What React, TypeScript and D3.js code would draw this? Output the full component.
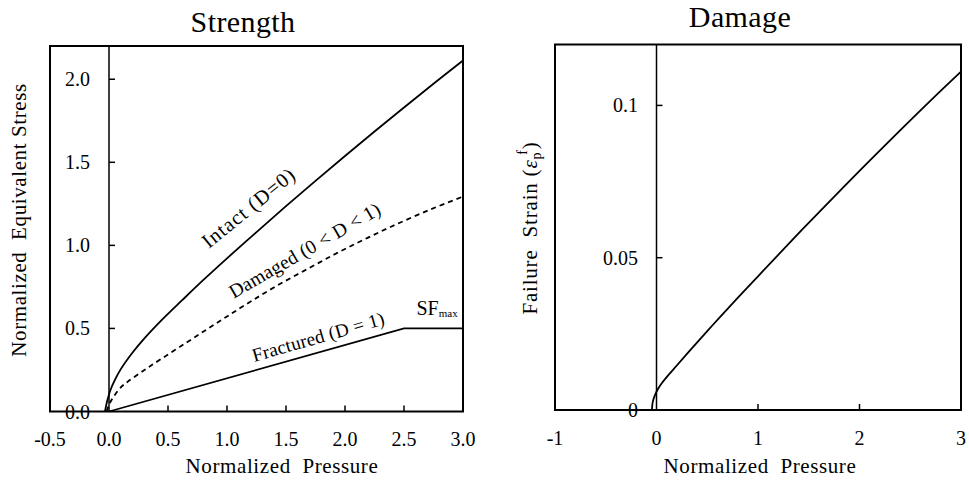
import React from 'react';
import * as d3 from 'd3';

// ---------- Data ----------
const strengthXTicks = [-0.5, 0.0, 0.5, 1.0, 1.5, 2.0, 2.5, 3.0];
const strengthYTicks = [0.0, 0.5, 1.0, 1.5, 2.0];

const intactP = [-0.034, -0.02, -0.005, 0.01, 0.05, 0.1, 0.2, 0.3, 0.45, 0.62, 0.8, 1.0, 1.25, 1.5, 1.75, 2.0, 2.25, 2.5, 2.75, 3.0];
const intactS = [0, 0.05, 0.09, 0.125, 0.19, 0.255, 0.355, 0.44, 0.553, 0.67, 0.792, 0.922, 1.08, 1.236, 1.388, 1.538, 1.685, 1.83, 1.973, 2.113];

const damagedP = [-0.02, 0.0, 0.04, 0.1, 0.16, 0.3, 0.45, 0.65, 0.83, 1.0, 1.2, 1.44, 1.7, 1.93, 2.15, 2.39, 2.7, 3.0];
const damagedS = [0, 0.04, 0.09, 0.145, 0.18, 0.25, 0.32, 0.412, 0.495, 0.572, 0.662, 0.764, 0.865, 0.953, 1.031, 1.112, 1.209, 1.294];

const fracturedP = [0, 2.5, 3.0];
const fracturedS = [0, 0.5, 0.5];

const damageXTicks = [-1, 0, 1, 2, 3];
const damageYTicks = [0, 0.05, 0.1];
const damageYLabels = ['0', '0.05', '0.1'];

const failP = [-0.045, -0.04, -0.03, -0.015, 0, 0.025, 0.05, 0.1, 0.2, 0.35, 0.5, 0.65, 0.83, 1.0, 1.32, 1.6, 2.0, 2.4, 2.7, 3.0];
const failE = [0, 0.002, 0.0035, 0.0049, 0.006, 0.0075, 0.0087, 0.0108, 0.0146, 0.0203, 0.0259, 0.0314, 0.0379, 0.0439, 0.0552, 0.0649, 0.0785, 0.0918, 0.1016, 0.1111];

const FONT = '"Liberation Serif", "Times New Roman", Times, serif';

function zip(xs: number[], ys: number[]): [number, number][] {
  return xs.map((x, i) => [x, ys[i]] as [number, number]);
}

export default function App() {
  const W = 969;
  const H = 481;

  const sx = d3.scaleLinear().domain([-0.5, 3.0]).range([50, 463]);
  const sy = d3.scaleLinear().domain([0, 2.2]).range([411.5, 46]);
  const sLine = d3
    .line<[number, number]>()
    .x((d) => sx(d[0]))
    .y((d) => sy(d[1]))
    .curve(d3.curveCatmullRom.alpha(0.5));
  const sLinear = d3
    .line<[number, number]>()
    .x((d) => sx(d[0]))
    .y((d) => sy(d[1]));

  const dx = d3.scaleLinear().domain([-1, 3]).range([555, 961]);
  const dy = d3.scaleLinear().domain([0, 0.12]).range([410, 44.5]);
  const dLine = d3
    .line<[number, number]>()
    .x((d) => dx(d[0]))
    .y((d) => dy(d[1]))
    .curve(d3.curveCatmullRom.alpha(0.5));

  const tickFont = 20;

  return (
    <svg
      width={W}
      height={H}
      viewBox={`0 0 ${W} ${H}`}
      style={{ position: 'absolute', left: 0, top: 0, background: '#fff' }}
      fontFamily={FONT}
    >
      <rect x={0} y={0} width={W} height={H} fill="#fff" />

      {/* ================= Strength ================= */}
      <text x={243} y={32} fontSize={30} textAnchor="middle" letterSpacing={0.4}>
        Strength
      </text>
      <rect
        x={sx(-0.5)}
        y={sy(2.2)}
        width={sx(3.0) - sx(-0.5)}
        height={sy(0) - sy(2.2)}
        fill="none"
        stroke="#000"
        strokeWidth={2}
      />
      <line x1={sx(0)} x2={sx(0)} y1={sy(2.2)} y2={sy(0)} stroke="#000" strokeWidth={1.5} />
      {strengthYTicks.map((v) => (
        <g key={'sy' + v}>
          {v > 0 && <line x1={sx(0)} x2={sx(0) + 6} y1={sy(v)} y2={sy(v)} stroke="#000" strokeWidth={1.5} />}
          <text x={90} y={sy(v) + 7} fontSize={tickFont} textAnchor="end">
            {v.toFixed(1)}
          </text>
        </g>
      ))}
      {strengthXTicks.map((v) => (
        <g key={'sx' + v}>
          {v > 0 && v < 3 && (
            <line x1={sx(v)} x2={sx(v)} y1={sy(0)} y2={sy(0) - 6} stroke="#000" strokeWidth={1.5} />
          )}
          <text x={sx(v)} y={446} fontSize={tickFont} textAnchor="middle">
            {v.toFixed(1)}
          </text>
        </g>
      ))}
      <text x={282} y={473} fontSize={21} textAnchor="middle" letterSpacing={0.6} style={{ whiteSpace: 'pre' }}>
        {'Normalized  Pressure'}
      </text>
      <text
        transform={`translate(25.5, 220) rotate(-90)`}
        fontSize={21}
        textAnchor="middle"
        letterSpacing={0.6}
        style={{ whiteSpace: 'pre' }}
      >
        {'Normalized  Equivalent Stress'}
      </text>

      <path d={sLine(zip(intactP, intactS)) || ''} fill="none" stroke="#000" strokeWidth={1.8} />
      <path
        d={sLine(zip(damagedP, damagedS)) || ''}
        fill="none"
        stroke="#000"
        strokeWidth={1.8}
        strokeDasharray="5,4"
      />
      <path d={sLinear(zip(fracturedP, fracturedS)) || ''} fill="none" stroke="#000" strokeWidth={1.8} />

      <text transform={`translate(253, 213) rotate(-39)`} fontSize={20.5} textAnchor="middle" letterSpacing={1}>
        Intact (D=0)
      </text>
      <text transform={`translate(308, 256) rotate(-30)`} fontSize={19.5} textAnchor="middle" letterSpacing={0.2}>
        Damaged (0 &lt; D &lt; 1)
      </text>
      <text transform={`translate(320, 343) rotate(-16)`} fontSize={19} textAnchor="middle" letterSpacing={0.2}>
        Fractured (D = 1)
      </text>
      <text x={416.5} y={315} fontSize={20}>
        SF<tspan fontSize={11} dy={2}>max</tspan>
      </text>

      {/* ================= Damage ================= */}
      <text x={740} y={27} fontSize={30} textAnchor="middle" letterSpacing={0.4}>
        Damage
      </text>
      <rect
        x={dx(-1)}
        y={dy(0.12)}
        width={dx(3) - dx(-1)}
        height={dy(0) - dy(0.12)}
        fill="none"
        stroke="#000"
        strokeWidth={2}
      />
      <line x1={dx(0)} x2={dx(0)} y1={dy(0.12)} y2={dy(0)} stroke="#000" strokeWidth={1.5} />
      {damageYTicks.map((v, i) => (
        <g key={'dy' + v}>
          {v > 0 && <line x1={dx(0)} x2={dx(0) + 6} y1={dy(v)} y2={dy(v)} stroke="#000" strokeWidth={1.5} />}
          <text x={638} y={dy(v) + 7} fontSize={tickFont} textAnchor="end">
            {damageYLabels[i]}
          </text>
        </g>
      ))}
      {damageXTicks.map((v) => (
        <g key={'dx' + v}>
          {v > 0 && v < 3 && (
            <line x1={dx(v)} x2={dx(v)} y1={dy(0)} y2={dy(0) - 6} stroke="#000" strokeWidth={1.5} />
          )}
          <text x={dx(v)} y={445} fontSize={tickFont} textAnchor="middle">
            {String(v)}
          </text>
        </g>
      ))}
      <text x={760} y={473} fontSize={21} textAnchor="middle" letterSpacing={0.6} style={{ whiteSpace: 'pre' }}>
        {'Normalized  Pressure'}
      </text>
      <text
        transform={`translate(536.5, 228) rotate(-90)`}
        fontSize={21}
        textAnchor="middle"
        letterSpacing={0.8}
        style={{ whiteSpace: 'pre' }}
      >
        {'Failure  Strain ('}
        <tspan fontStyle="italic">ε</tspan>
        <tspan fontSize={14} dy={4}>p</tspan>
        <tspan fontSize={14} dy={-14} dx={-3}>f</tspan>
        <tspan dy={10}>)</tspan>
      </text>

      <path d={dLine(zip(failP, failE)) || ''} fill="none" stroke="#000" strokeWidth={1.8} />
    </svg>
  );
}
